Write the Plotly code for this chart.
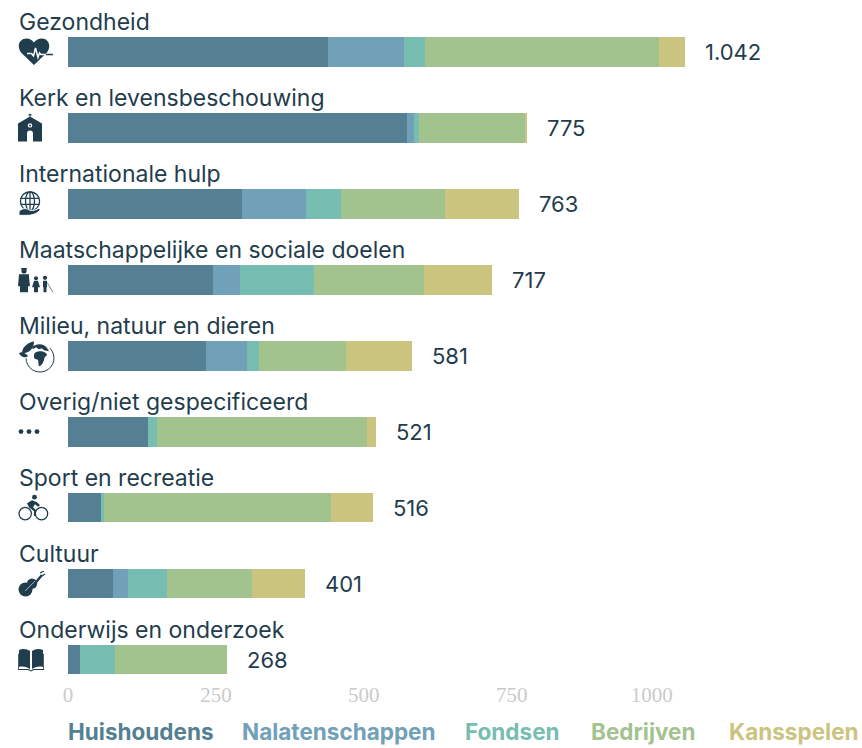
import base64
import plotly.graph_objects as go

categories = ["Gezondheid", "Kerk en levensbeschouwing", "Internationale hulp",
              "Maatschappelijke en sociale doelen", "Milieu, natuur en dieren",
              "Overig/niet gespecificeerd", "Sport en recreatie", "Cultuur",
              "Onderwijs en onderzoek"]
totals = [1042, 775, 763, 717, 581, 521, 516, 401, 268]
total_labels = ["1.042", "775", "763", "717", "581", "521", "516", "401", "268"]
huishoudens = [439, 573, 294, 245, 233, 135, 56, 76, 20]
nalatenschappen = [129, 11, 108, 46, 69, 0, 0, 25, 0]
fondsen = [35, 9, 60, 124, 21, 15, 4, 66, 60]
bedrijven = [395, 181, 175, 186, 147, 355, 385, 144, 188]
kansspelen = [44, 1, 126, 116, 111, 16, 71, 90, 0]
tick_values = [0, 250, 500, 750, 1000]
tick_labels = ["0", "250", "500", "750", "1000\u00a0\u00a0\u00a0"]

series = [("Huishoudens", huishoudens, "#557f92", 68),
          ("Nalatenschappen", nalatenschappen, "#70a1b8", 242),
          ("Fondsen", fondsen, "#77bdb1", 465),
          ("Bedrijven", bedrijven, "#a3c38e", 591),
          ("Kansspelen", kansspelen, "#cbc47f", 729)]

INK = "#1f3d4d"
W, H = 862, 748
L, R, T, B = 68, 0, 13.5, 68
PW, PH = W - L - R, H - T - B

fig = go.Figure()
for name, vals, col, _ in series:
    fig.add_bar(y=categories, x=vals, name=name, orientation="h",
                marker=dict(color=col, line_width=0), showlegend=False)

annotations = []
for c, t, lab in zip(categories, totals, total_labels):
    annotations.append(dict(x=t, y=c, xref="x", yref="y", text=lab, showarrow=False,
                            xanchor="left", xshift=18, yshift=0,
                            font=dict(family="Inter", size=22, color=INK)))
    annotations.append(dict(x=0, y=c, xref="x", yref="y", text=c, showarrow=False,
                            xanchor="left", xshift=-51, yshift=30,
                            font=dict(family="Inter", size=23, color=INK)))
for name, _, col, px in series:
    annotations.append(dict(x=(px - L) / PW, y=(H - 732 - B) / PH, xref="paper", yref="paper",
                            text="<b>%s</b>" % name, showarrow=False, xanchor="left",
                            yanchor="middle", xshift=-2,
                            font=dict(family="Inter", size=22.5, color=col)))

def svg(body, w=40, h=32):
    s = ('<svg xmlns="http://www.w3.org/2000/svg" width="%d" height="%d" viewBox="0 0 %d %d" '
         'fill="%s">%s</svg>' % (w, h, w, h, INK, body))
    return "data:image/svg+xml;base64," + base64.b64encode(s.encode()).decode()

heart = ('<path d="M16 27.5 L3 15 C-2 8 2 1 8.5 1 C12 1 14.5 3 16 5 C17.5 3 20 1 24 1 C30 1 34 8 29 15 Z"/>'
         '<path d="M9 16 H13.5 L15.5 18.5 L17.5 10.5 L20 20 L21.5 15.5 L23 17 H28" fill="none" stroke="#fff" stroke-width="1.5"/>'
         '<path d="M28 17 H35" stroke="%s" stroke-width="1.5"/>' % INK)
church = ('<path d="M12 0 v3 M10.5 1.5 h3" stroke="%s" stroke-width="1.1"/>'
          '<path d="M0 10 L12 3 L24 10 V28 H15 V20 A3 3 0 0 0 9 20 V28 H0 Z"/>'
          '<circle cx="12" cy="12" r="2.2" fill="#fff"/><circle cx="12" cy="12" r="1"/>' % INK)
globe = ('<g fill="none" stroke="%s" stroke-width="1.3"><circle cx="12" cy="10" r="9.6"/>'
         '<ellipse cx="12" cy="10" rx="4.5" ry="9.6"/><path d="M12 0 V20 M2.5 7 H21.5 M2.5 13 H21.5"/></g>'
         '<path d="M1 20 C5 16 9 17 12 19 H16 L21 17 C23 17 22 19 21 20 C17 23 14 24 9 24 H1 Z" '
         'stroke="#fff" stroke-width="1"/>' % INK)
people = ('<circle cx="6" cy="3.6" r="2.6"/><path d="M1 7 H11 V10 L12 19 H10 V25 H2 V19 H0 Z"/>'
          '<path d="M3 .8 H9 V2 H3 Z"/>'
          '<circle cx="18" cy="11" r="2"/><path d="M16 13.5 H20 L22 20 H20 V25 H16 V20 H14 Z"/>'
          '<circle cx="27" cy="10.5" r="2.1"/><path d="M25 13.5 H29 V20 H28.5 V25 H25.5 V20 H25 Z"/>'
          '<path d="M29 15 L35 25" stroke="%s" stroke-width=".6"/>' % INK)
earth = ('<path d="M13 6 C16 3 21 2 25 4 C28 6 29 8 30 10 L25 9 L23 7 L20 8 L17 6 L14 8 Z"/>'
         '<path d="M15 14 C15 11 19 10 21 10 C25 10 28 12 28 14 C26 15 25 17 25 19 C24 22 22 25 20 25 C19 22 20 19 18 18 C15 18 15 16 15 14 Z"/>'
         '<path d="M7 17 A14 14 0 1 0 31 7" fill="none" stroke="%s" stroke-width="1"/>'
         '<path d="M3 12 C3 6 8 2 15 0 C15 7 11 12 3 12 Z"/>'
         '<path d="M0 12 C3 9 8 13 9 15 C6 17 2 16 0 12 Z"/>' % INK)
dots = ('<circle cx="3" cy="3.4" r="2.4"/><circle cx="11" cy="3.4" r="2.4"/><circle cx="19" cy="3.4" r="2.4"/>')
bike = ('<g fill="none" stroke="%s" stroke-width="1.3"><circle cx="7.2" cy="19.5" r="6.2"/><circle cx="23.5" cy="19.5" r="6.2"/></g>'
        '<circle cx="16.5" cy="3" r="2.4"/><path d="M9 9 L14 6 L19 8 L22 11 L20 12.5 L17 10 L15 13 L18 16 V22 H16 V17 L11 13 Z"/>' % INK)
violin = ('<circle cx="7.5" cy="18.5" r="7"/><circle cx="14" cy="12.5" r="5.2"/>'
          '<path d="M14 16 L24 4" stroke="%s" stroke-width="2.4"/>'
          '<path d="M22 2 L26 0 M24 5 L27 3" stroke="%s" stroke-width="1.2"/>'
          '<path d="M7 20 L17 10" stroke="#fff" stroke-width=".6"/>' % (INK, INK))
book = ('<path d="M1 2 C5 0 9 1 12 3 V21 C9 19 5 18 1 19 Z"/><path d="M14 3 C17 1 21 0 25 2 V19 C21 18 17 19 14 21 Z"/>'
        '<path d="M0 6 V22 H10 L13 23.5 L16 22 H26 V6 H25.2 V21 H15.5 L13 22.5 L10.5 21 H0.8 V6 Z"/>')

icons = [(heart, 18, 37), (church, 18, 113), (globe, 18, 191), (people, 18, 267),
         (earth, 19, 341), (dots, 18, 428), (bike, 18, 494), (violin, 18, 571), (book, 18, 648)]
images = [dict(source=svg(b), xref="paper", yref="paper",
               x=(x - L) / PW, y=(H - y - B) / PH, sizex=40 / PW, sizey=32 / PH,
               xanchor="left", yanchor="top", sizing="contain", layer="above")
          for b, x, y in icons]

fig.update_layout(
    width=W, height=H, barmode="stack", bargap=0.615, autosize=False,
    margin=dict(l=L, r=R, t=T, b=B, pad=0),
    paper_bgcolor="#fff", plot_bgcolor="#fff",
    annotations=annotations, images=images,
    xaxis=dict(range=[0, PW / 0.5917], tickvals=tick_values, ticktext=tick_labels, showgrid=False,
               zeroline=False, showline=False, ticks="",
               tickfont=dict(family="Liberation Serif", size=21, color="#cacaca")),
    yaxis=dict(categoryorder="array", categoryarray=categories,
               range=[8.2658, -0.5], showticklabels=False, showgrid=False, zeroline=False,
               showline=False, ticks=""),
)
fig.write_html("out.html", post_script="document.body.style.margin='0';",
               config=dict(displayModeBar=False))
